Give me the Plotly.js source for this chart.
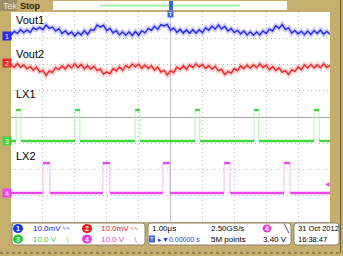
<!DOCTYPE html>
<html><head><meta charset="utf-8">
<script src="https://cdn.plot.ly/plotly-3.0.1.min.js"></script>
<style>html,body{margin:0;padding:0;background:#c6ae6c;}#chart{width:343px;height:256px;}</style>
</head><body><div id="chart"></div>
<script>
// ---------- data ----------
const time = [-5.0,-4.9,-4.8,-4.7,-4.6,-4.5,-4.4,-4.3,-4.2,-4.1,
 -4.0,-3.9,-3.8,-3.7,-3.6,-3.5,-3.4,-3.3,-3.2,-3.1,
 -3.0,-2.9,-2.8,-2.7,-2.6,-2.5,-2.4,-2.3,-2.2,-2.1,
 -2.0,-1.9,-1.8,-1.7,-1.6,-1.5,-1.4,-1.3,-1.2,-1.1,
 -1.0,-0.9,-0.8,-0.7,-0.6,-0.5,-0.4,-0.3,-0.2,-0.1,
 0.0,0.1,0.2,0.3,0.4,0.5,0.6,0.7,0.8,0.9,
 1.0,1.1,1.2,1.3,1.4,1.5,1.6,1.7,1.8,1.9,
 2.0,2.1,2.2,2.3,2.4,2.5,2.6,2.7,2.8,2.9,
 3.0,3.1,3.2,3.3,3.4,3.5,3.6,3.7,3.8,3.9,
 4.0,4.1,4.2,4.3,4.4,4.5,4.6,4.7,4.8,4.9,5.0]; // µs
const vout1 = [0.3,1.8,1.0,2.4,1.3,2.3,1.4,3.1,2.4,3.3,
 2.4,4.2,2.9,3.4,1.9,2.8,0.9,2.0,0.7,1.5,
 0.0,1.4,0.4,2.0,0.6,2.4,2.1,4.2,3.4,4.1,
 2.0,2.9,1.2,2.1,0.4,1.6,0.3,1.6,0.2,1.7,
 0.3,2.0,1.2,2.9,2.2,3.7,2.5,4.3,3.8,4.4,
 2.2,3.0,1.4,2.5,1.1,2.3,1.0,2.4,1.1,2.4,
 1.3,3.1,2.2,3.8,2.6,4.2,2.7,3.7,1.9,2.8,
 1.3,2.2,0.8,1.9,0.4,1.6,0.3,1.5,0.4,1.9,
 1.0,2.6,1.9,3.9,2.9,4.4,2.5,3.1,1.1,2.1,
 0.8,1.8,0.5,1.9,0.6,2.1,1.0,2.2,0.7,1.7,0.7]; // mV
const vout2 = [-0.5,-1.7,-0.2,-1.6,-0.7,-2.3,-1.3,-2.7,-1.6,-3.4,
 -2.8,-4.7,-3.0,-3.6,-1.7,-2.5,-1.1,-2.3,-0.8,-1.8,
 -0.3,-1.8,-0.5,-2.2,-1.0,-2.3,-1.3,-2.9,-2.3,-4.2,
 -3.4,-4.1,-2.1,-3.0,-1.5,-2.7,-1.0,-1.9,-0.4,-1.5,
 -0.4,-2.0,-0.8,-2.1,-1.1,-2.7,-1.6,-3.4,-2.8,-4.6,
 -3.0,-3.6,-1.6,-2.5,-1.1,-2.4,-0.8,-1.7,-0.3,-1.5,
 -0.5,-2.1,-1.0,-2.4,-1.3,-3.0,-2.4,-4.4,-3.2,-3.9,
 -2.1,-2.9,-1.1,-2.2,-0.8,-2.0,-0.7,-1.8,-0.3,-1.7,
 -0.8,-2.5,-1.4,-2.8,-1.8,-3.5,-2.9,-4.4,-2.6,-3.2,
 -1.5,-2.5,-0.7,-1.9,-0.6,-1.9,-0.7,-1.8,-0.3,-1.7,-0.8]; // mV
const lx1Rise = [-4.84,-2.99,-1.11,0.77,2.62,4.50]; // µs
const lx1Fall = [-4.69,-2.84,-0.96,0.92,2.77,4.66];
const lx1Levels = [0.0, 11.8]; // V low, high
const lx2Rise = [-4.00,-2.12,-0.24,1.68,3.56];
const lx2Fall = [-3.78,-1.90,-0.02,1.87,3.75];
const lx2Levels = [0.0, 11.4];
const chScale = [10, 10, 10, 10];                   // mV/div, mV/div, V/div, V/div
const chOffsetDiv = [3.086, 2.057, -0.914, -2.895]; // ground marker position (div)
const trigLevel = 3.40; // V on ch4

// ---------- helpers ----------
const PL=11, PR=330, PT=12, PB=222;
const fx = p => (p-PL)/(PR-PL);
const fy = p => (PB-p)/(PB-PT);
const toDiv = (ch, v) => v===null ? null : chOffsetDiv[ch] + v/chScale[ch];
function pulseLevels(rise, fall, lv){
  const x=[], y=[]; let t0=-5;
  for(let i=0;i<rise.length;i++){
    x.push(t0, rise[i], null, rise[i], fall[i], null); y.push(lv[0], lv[0], null, lv[1], lv[1], null);
    t0 = fall[i];
  }
  x.push(t0, 5); y.push(lv[0], lv[0]);
  return {x, y};
}
function pulseEdges(rise, fall, lv){
  const x=[], y=[];
  rise.concat(fall).forEach(t=>{x.push(t,t,null); y.push(lv[0],lv[1],null);});
  return {x, y};
}
const C = {b:'#2b2bf0', r:'#ee2a2a', g:'#3fd63f', m:'#ec45ec'};
const traces = [];
function addNoisy(vals, ch, col, halo){
  const y = vals.map(v=>toDiv(ch, v));
  traces.push({x:time, y:y, mode:'lines', line:{color:halo, width:5}, hoverinfo:'skip'});
  traces.push({x:time, y:y, mode:'lines', line:{color:col, width:1.5}, hoverinfo:'skip'});
}
addNoisy(vout1, 0, C.b, 'rgba(90,90,255,0.28)');
addNoisy(vout2, 1, C.r, 'rgba(255,90,90,0.28)');
function addPulse(rise, fall, lv, ch, col, light){
  const e = pulseEdges(rise, fall, lv), l = pulseLevels(rise, fall, lv);
  traces.push({x:e.x, y:e.y.map(v=>toDiv(ch,v)), mode:'lines', line:{color:light, width:1}, hoverinfo:'skip'});
  traces.push({x:l.x, y:l.y.map(v=>toDiv(ch,v)), mode:'lines', line:{color:col, width:2.4}, hoverinfo:'skip'});
}
addPulse(lx1Rise, lx1Fall, lx1Levels, 2, C.g, '#b8f0b8');
addPulse(lx2Rise, lx2Fall, lx2Levels, 3, C.m, '#f4b8f4');

const FONT = 'Liberation Sans, Arial, sans-serif';
const ann = [], shp = [];
function txt(t, px, py, col, size, xa, extra){
  ann.push(Object.assign({text:t, xref:'paper', yref:'paper', x:fx(px), y:fy(py), xanchor:xa||'left', yanchor:'middle',
    showarrow:false, font:{family:FONT, size:size||8, color:col||'#000'}}, extra||{}));
}
function rect(x0,y0,x1,y1,fill,line){
  shp.push({type:'rect', xref:'paper', yref:'paper', x0:fx(x0), x1:fx(x1), y0:fy(y0), y1:fy(y1),
    fillcolor:fill, line:{color:line||fill, width:line?1:0}, layer:'above'});
}
function circ(cx,cy,r,fill,label){
  shp.push({type:'circle', xref:'paper', yref:'paper', x0:fx(cx-r), x1:fx(cx+r), y0:fy(cy+r*0.9), y1:fy(cy-r*0.9),
    fillcolor:fill, line:{width:0}, layer:'above'});
  txt(label, cx, cy, '#fff', 7, 'center', {font:{family:FONT,size:7,color:'#fff',weight:'bold'}});
}
// trace labels
txt('Vout1', 14, 20, '#000', 11);
txt('Vout2', 14, 54, '#000', 11);
txt('LX1', 14, 94, '#000', 11);
txt('LX2', 14, 156, '#000', 11);
// channel ground markers
const mk = [['1',C.b],['2',C.r],['3',C.g],['4',C.m]];
mk.forEach((m,i)=>ann.push({text:m[0], xref:'paper', yref:'y', x:fx(6.5), y:toDiv(i,0), xanchor:'center', yanchor:'middle',
  showarrow:false, bgcolor:m[1], borderpad:0, width:8, height:8, font:{family:FONT,size:7,color:'#fff'}}));
// trigger level marker
ann.push({text:'◀', xref:'paper', yref:'y', x:fx(327), y:toDiv(3,trigLevel), xanchor:'center', yanchor:'middle',
  showarrow:false, font:{size:6,color:C.m}});

// top bar
rect(0,0,17,11,'#9c8d68');
txt('Tek', 1, 5.5, '#efe8d2', 9);
txt('Stop', 18, 5.5, '#2a2412', 9, 'left', {font:{family:FONT,size:9,color:'#2a2412',weight:'bold'}});
rect(53,1,287,10,'#ffffff');
shp.push({type:'line', xref:'paper', yref:'paper', x0:fx(100), x1:fx(240), y0:fy(5.5), y1:fy(5.5), line:{color:'#a4f0a4', width:2}, layer:'above'});
rect(169,1,173,10,'#3a6ad8');
ann.push({text:'T', xref:'paper', yref:'paper', x:fx(171), y:fy(14.5), xanchor:'center', yanchor:'middle', showarrow:false,
  bgcolor:'#3a6ad8', borderpad:0, width:5, height:6, font:{family:FONT,size:6,color:'#fff'}});

// bottom info boxes
function rrect(x0,y0,x1,y1,r){
  const X0=fx(x0),X1=fx(x1),Y0=fy(y0),Y1=fy(y1);
  const rx=r/(PR-PL), ry=r/(PB-PT);
  const path=`M ${X0+rx},${Y0} L ${X1-rx},${Y0} Q ${X1},${Y0} ${X1},${Y0-ry} L ${X1},${Y1+ry} Q ${X1},${Y1} ${X1-rx},${Y1} L ${X0+rx},${Y1} Q ${X0},${Y1} ${X0},${Y1+ry} L ${X0},${Y0-ry} Q ${X0},${Y0} ${X0+rx},${Y0} Z`;
  shp.push({type:'path', xref:'paper', yref:'paper', path:path, fillcolor:'#ffffff', line:{color:'#8a8270', width:1}, layer:'above'});
}
rrect(12,223,145,245,3);
rrect(148,223,291,245,3);
rrect(294,223,339,245,3);
const r1=228.5, r2=239;
circ(18,r1,5,'#1438e8','1');
txt('10.0mV', 31, r1, '#2020d8', 8);
txt('∿∿', 60, r1, '#2020d8', 5);
circ(87,r1,5,'#e81818','2');
txt('10.0mV', 99, r1, '#e02020', 8);
txt('∿∿', 128, r1, '#e02020', 5);
circ(18,r2,5,'#28c828','3');
txt('10.0 V', 31, r2, '#3ccc3c', 8);
txt('∖', 63, r2, '#3ccc3c', 7);
circ(87,r2,5,'#e040e0','4');
txt('10.0 V', 99, r2, '#e040e0', 8);
txt('∖', 131, r2, '#e040e0', 7);
txt('1.00µs', 150, r1, '#000', 8);
txt('2.50GS/s', 209, r1, '#000', 8);
circ(267,r1,4.5,'#e040e0','4');
txt('╲', 281, r1, '#000', 8);
rect(149,r2-3.5,155,r2+3.5,'#3a6ad8');
txt('T', 152, r2, '#fff', 6, 'center');
txt('▸▼0.00000 s', 155.5, r2, '#2040d8', 7);
txt('5M points', 209, r2, '#000', 8);
txt('3.40 V', 289, r2, '#000', 8, 'right');
txt('31 Oct 2012', 296, r1, '#000', 7.5);
txt('16:38:47', 296, r2, '#000', 7.5);
// outer dark edges
shp.push({type:'line', xref:'paper', yref:'paper', x0:fx(340.5), x1:fx(340.5), y0:fy(0), y1:fy(253), line:{color:'#6b5a30', width:1}, layer:'above'});
shp.push({type:'line', xref:'paper', yref:'paper', x0:fx(0), x1:fx(341), y0:fy(253), y1:fy(253), line:{color:'#6b5a30', width:1, dash:'dot'}, layer:'above'});

const gridDash = '1px,3px';
const layout = {
  width:343, height:256, showlegend:false,
  margin:{l:PL, r:343-PR, t:PT, b:256-PB, autoexpand:false},
  paper_bgcolor:'#c6ae6c', plot_bgcolor:'#ffffff',
  xaxis:{range:[-5,5], dtick:1, tick0:0, showticklabels:false, ticks:'', showgrid:true, gridcolor:'#bdbdbd', griddash:gridDash, gridwidth:1,
    zeroline:true, zerolinecolor:'#c4c4c4', zerolinewidth:1, showline:false, fixedrange:true},
  yaxis:{range:[-4,4], dtick:1, tick0:0, showticklabels:false, ticks:'', showgrid:true, gridcolor:'#bdbdbd', griddash:gridDash, gridwidth:1,
    zeroline:true, zerolinecolor:'#a8a8a8', zerolinewidth:1, showline:false, fixedrange:true},
  annotations:ann, shapes:shp
};
Plotly.newPlot('chart', traces, layout, {staticPlot:true, displayModeBar:false});
</script></body></html>
